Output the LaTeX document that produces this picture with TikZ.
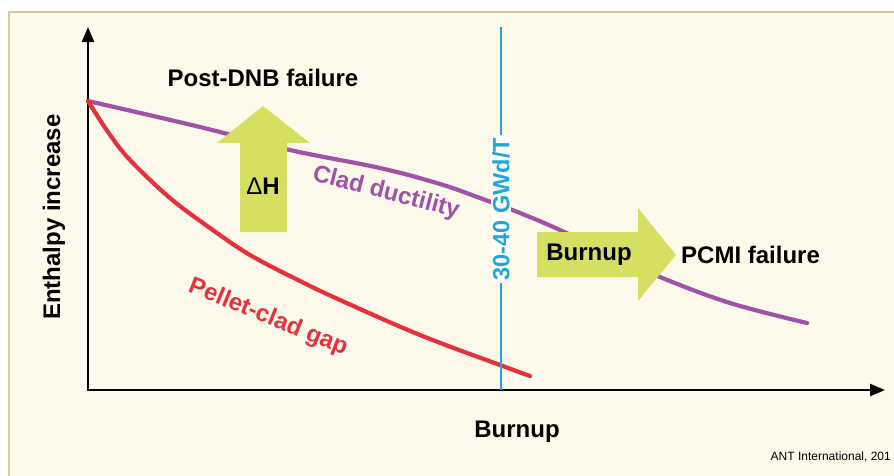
\documentclass[tikz,border=0pt]{standalone}
\usepackage{fontspec}
\setmainfont{Liberation Sans}
\usetikzlibrary{arrows.meta}
\definecolor{bgcream}{HTML}{FEFAEB}
\definecolor{frametan}{HTML}{D8C9A2}
\definecolor{ductpurple}{HTML}{A052A8}
\definecolor{gapred}{HTML}{E5313B}
\definecolor{limitblue}{HTML}{1FA7D6}
\definecolor{arrowgreen}{HTML}{D7DF63}
\tikzset{
  axisline/.style={line width=2.6pt, {Triangle[length=15pt,width=12pt]}-{Triangle[length=15pt,width=12pt]}},
  curveline/.style={line width=4.2pt, line cap=round, line join=round},
  biglabel/.style={font=\fontsize{24}{28}\selectfont\bfseries, inner sep=0pt},
  blockarrow/.style={fill=arrowgreen, draw=none},
}
\begin{document}
\begin{tikzpicture}[x=1pt,y=-1pt]
\useasboundingbox (0,0) rectangle (894,475);
\fill[white] (0,0) rectangle (894,475);
\path[fill=bgcream, draw=frametan, line width=1.6pt] (9,12) rectangle (920,500);

% axes
\coordinate (O) at (88,390);
\coordinate (ytop) at (88,27);
\coordinate (xend) at (885,390);
\draw[axisline] (ytop) -- (O) -- (xend);

% curves
\draw[curveline, ductpurple] plot[smooth, tension=0.6] coordinates {(88,101) (200,127) (290,150) (380,168) (440,184) (480,198) (520,213) (560,230) (610,254) (660,277) (730,303) (807,323)};
\draw[curveline, gapred] plot[smooth, tension=0.6] coordinates {(88,101) (108,132) (130,160) (170,198) (210,228) (250,255) (300,281) (340,300) (420,335) (500,365) (530,376)};

% limit line
\coordinate (btop) at (501,27);
\coordinate (bbot) at (501,390);
\draw[limitblue, line width=2.4pt] (btop) -- (bbot);
\node[biglabel, font=\fontsize{23.5}{28}\selectfont\bfseries, text=limitblue, fill=bgcream!30!white, rotate=90, inner xsep=3pt, inner ysep=1.5pt] (glabel) at (501,209) {30-40 GWd/T};

% block arrows
\fill[blockarrow] (240,232) -- (240,143) -- (217,143) -- (263,106) -- (310,143) -- (287,143) -- (287,232) -- cycle;
\fill[blockarrow] (537,232) -- (638,232) -- (638,208) -- (676,255) -- (638,301) -- (638,277) -- (537,277) -- cycle;

% labels
\node[biglabel] (dnb) at (263,78) {Post-DNB failure};
\node[font=\fontsize{24}{28}\selectfont, inner sep=0pt] (dh) at (263,186) {Δ\textbf{H}};
\node[biglabel] (burnin) at (589,255) {Burnup};
\node[biglabel, anchor=west] (pcmi) at (681,255) {PCMI failure};
\node[biglabel, text=ductpurple, rotate=-14.5] (clad) at (386,193) {Clad ductility};
\node[biglabel, text=gapred, rotate=-22] (pellet) at (268,318) {Pellet-clad gap};
\node[biglabel, rotate=90] (ylab) at (54,217) {Enthalpy increase};
\node[biglabel] (xlab) at (517,432) {Burnup};
\node[font=\fontsize{12}{14}\selectfont, inner sep=0pt, anchor=east] (credit) at (891,457) {ANT International, 201};
\end{tikzpicture}
\end{document}
